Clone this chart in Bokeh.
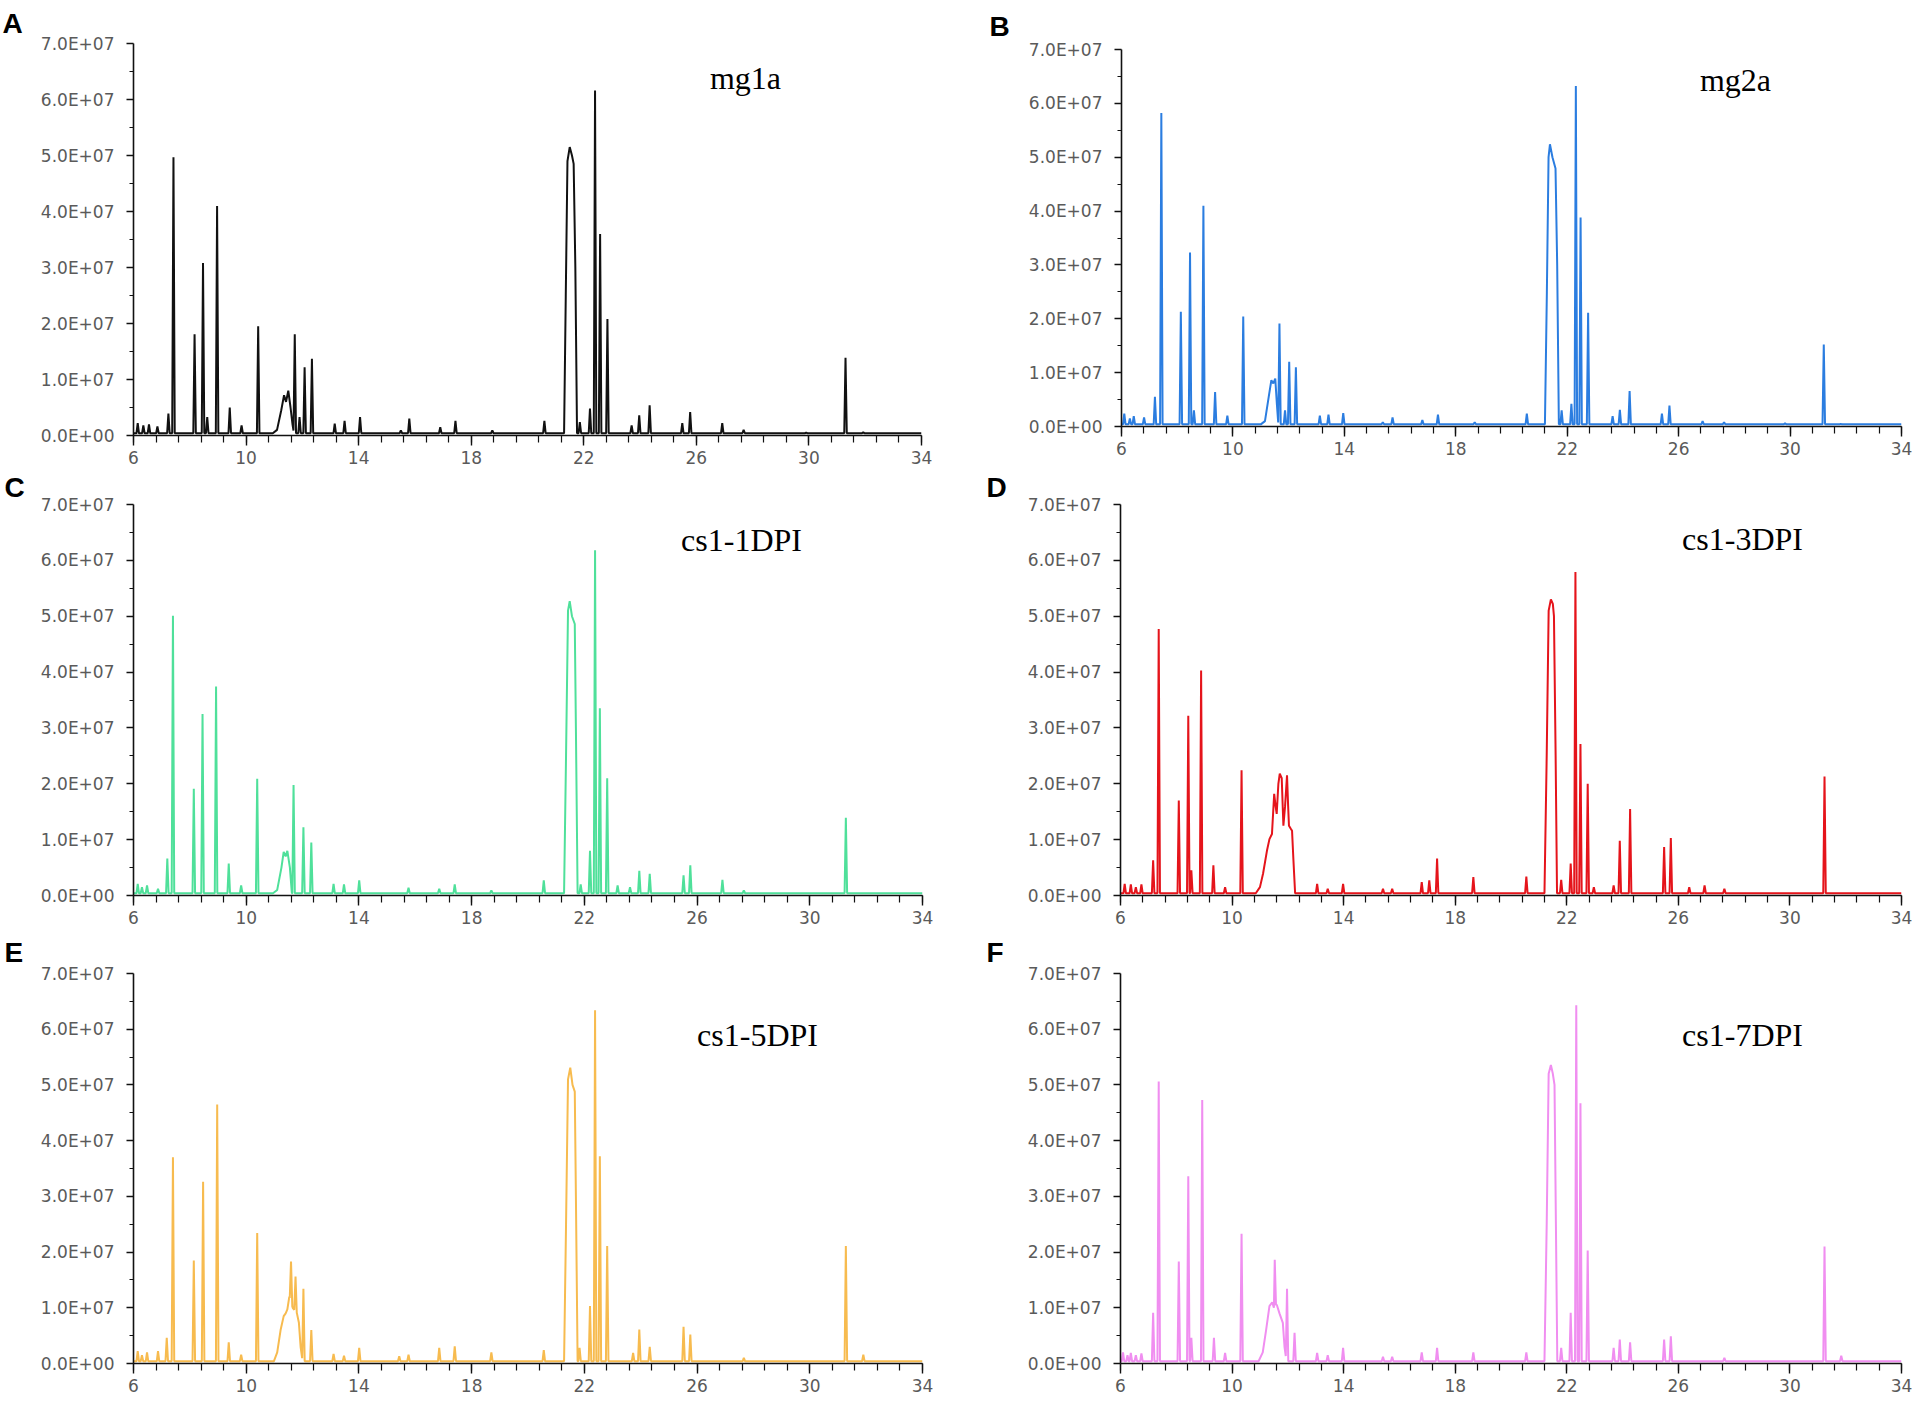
import numpy as np
from bokeh.plotting import figure
from bokeh.models import Label, FixedTicker
from bokeh.layouts import row, column
from bokeh.embed import file_html
from bokeh.resources import INLINE

# ---------------- data (intensities in units of 1e7) ----------------
x_ticks = [6, 10, 14, 18, 22, 26, 30, 34]
y_ticks = [0, 10000000, 20000000, 30000000, 40000000, 50000000, 60000000, 70000000]
y_tick_labels = ["0.0E+00", "1.0E+07", "2.0E+07", "3.0E+07", "4.0E+07", "5.0E+07", "6.0E+07", "7.0E+07"]
sample_names = ["mg1a", "mg2a", "cs1-1DPI", "cs1-3DPI", "cs1-5DPI", "cs1-7DPI"]
panel_letters = ["A", "B", "C", "D", "E", "F"]

# sharp peaks: retention time (min) and height (1e7)
A_rt = [6.15, 6.35, 6.55, 6.85, 7.24, 7.42, 8.17, 8.47, 8.62, 8.97, 9.42, 9.84, 10.43, 11.73, 11.9, 12.08, 12.34,
        13.15, 13.5, 14.05, 15.5, 15.8, 16.9, 17.44, 18.75, 20.6, 21.86, 22.22, 22.4, 22.58, 22.84, 23.7, 23.97,
        24.34, 25.5, 25.78, 26.92, 27.68, 29.9, 31.3, 31.93]
A_h = [0.22, 0.18, 0.2, 0.16, 0.39, 4.97, 1.81, 3.08, 0.33, 4.1, 0.5, 0.18, 1.95, 1.81, 0.33, 1.22, 1.37,
       0.21, 0.26, 0.33, 0.09, 0.3, 0.15, 0.26, 0.09, 0.26, 0.24, 0.48, 6.16, 3.6, 2.08, 0.18, 0.36,
       0.54, 0.22, 0.42, 0.22, 0.1, 0.05, 1.39, 0.06]
A_hump_t = [10.95, 11.1, 11.25, 11.35, 11.42, 11.5, 11.58, 11.65, 11.7]
A_hump_h = [0.0, 0.1, 0.45, 0.72, 0.6, 0.8, 0.5, 0.2, 0.0]
A_main_t = [21.3, 21.36, 21.42, 21.5, 21.58, 21.64, 21.7, 21.76]
A_main_h = [0.0, 2.5, 4.9, 5.15, 5.0, 4.85, 3.0, 0.0]

B_rt = [6.1, 6.3, 6.44, 6.81, 7.2, 7.43, 8.13, 8.46, 8.6, 8.94, 9.36, 9.8, 10.37, 11.67, 11.87, 12.02, 12.26,
        13.12, 13.43, 13.96, 15.38, 15.73, 16.8, 17.36, 18.68, 20.55, 21.8, 22.15, 22.31, 22.48, 22.75, 23.63,
        23.89, 24.24, 25.4, 25.67, 26.86, 27.63, 29.82, 31.21, 31.82]
B_h = [0.24, 0.15, 0.19, 0.17, 0.55, 5.82, 2.13, 3.23, 0.3, 4.1, 0.64, 0.2, 2.04, 1.91, 0.3, 1.2, 1.1,
       0.2, 0.22, 0.25, 0.08, 0.17, 0.12, 0.22, 0.08, 0.24, 0.3, 0.42, 6.32, 3.88, 2.11, 0.19,
       0.31, 0.66, 0.24, 0.39, 0.1, 0.08, 0.06, 1.52, 0.05]
B_hump_t = [11.0, 11.15, 11.3, 11.38, 11.45, 11.52, 11.58, 11.63]
B_hump_h = [0.0, 0.1, 0.6, 0.86, 0.8, 0.89, 0.4, 0.0]
B_main_t = [21.2, 21.27, 21.33, 21.38, 21.47, 21.58, 21.64, 21.7]
B_main_h = [0.0, 2.5, 5.0, 5.24, 5.0, 4.79, 3.0, 0.0]

C_rt = [6.15, 6.3, 6.48, 6.87, 7.2, 7.4, 8.14, 8.45, 8.93, 9.38, 9.82, 10.39, 11.68, 12.03, 12.31, 13.1, 13.47,
        14.01, 15.76, 16.85, 17.4, 18.7, 20.56, 21.87, 22.2, 22.38, 22.55, 22.81, 23.18, 23.62, 23.95, 24.32,
        25.52, 25.76, 26.9, 27.66, 31.28]
C_h = [0.21, 0.15, 0.18, 0.12, 0.66, 5.01, 1.91, 3.25, 3.74, 0.57, 0.18, 2.09, 1.98, 1.22, 0.95, 0.21, 0.2,
       0.27, 0.14, 0.12, 0.2, 0.09, 0.27, 0.2, 0.8, 6.18, 3.35, 2.1, 0.18, 0.15, 0.44, 0.39,
       0.36, 0.54, 0.28, 0.09, 1.39]
C_hump_t = [10.95, 11.1, 11.25, 11.33, 11.4, 11.46, 11.55, 11.62]
C_hump_h = [0.0, 0.1, 0.5, 0.78, 0.7, 0.8, 0.5, 0.0]
C_main_t = [21.28, 21.35, 21.42, 21.48, 21.56, 21.66, 21.7, 21.76]
C_main_h = [0.0, 2.5, 5.1, 5.27, 5.0, 4.86, 3.0, 0.0]

D_rt = [6.15, 6.37, 6.55, 6.75, 7.17, 7.37, 8.09, 8.43, 8.54, 8.89, 9.33, 9.75, 10.34, 13.05, 13.43, 13.98,
        15.41, 15.74, 16.8, 17.07, 17.35, 18.65, 20.55, 21.8, 22.14, 22.31, 22.49, 22.75, 22.97, 23.68, 23.9,
        24.27, 25.49, 25.73, 26.39, 26.94, 27.65, 31.24]
D_h = [0.21, 0.2, 0.15, 0.2, 0.63, 4.77, 1.7, 3.22, 0.45, 4.03, 0.54, 0.15, 2.24, 0.21, 0.12, 0.21,
       0.12, 0.12, 0.24, 0.27, 0.66, 0.33, 0.34, 0.28, 0.57, 5.79, 2.71, 2.0, 0.15, 0.18, 0.98,
       1.55, 0.87, 1.03, 0.15, 0.18, 0.12, 2.13]
D_hump_t = [10.85, 11.0, 11.11, 11.25, 11.34, 11.43, 11.51, 11.56, 11.6, 11.66, 11.71, 11.78, 11.84, 11.9,
            11.97, 12.01, 12.04, 12.1, 12.15, 12.2, 12.26]
D_hump_h = [0.0, 0.15, 0.39, 0.8, 1.01, 1.1, 1.82, 1.6, 1.46, 2.0, 2.18, 2.1, 1.25, 1.6,
            2.15, 1.6, 1.25, 1.2, 1.16, 0.63, 0.0]
D_main_t = [21.2, 21.28, 21.35, 21.43, 21.5, 21.54, 21.6, 21.65]
D_main_h = [0.0, 2.5, 5.1, 5.3, 5.22, 5.0, 2.5, 0.0]

E_rt = [6.15, 6.3, 6.48, 6.87, 7.18, 7.4, 8.14, 8.47, 8.97, 9.38, 9.82, 10.39, 11.59, 11.75, 12.03, 12.31,
        13.1, 13.47, 14.01, 15.43, 15.76, 16.85, 17.4, 18.7, 20.56, 21.83, 22.2, 22.38, 22.55, 22.81, 23.73,
        23.95, 24.32, 25.52, 25.76, 27.66, 31.28, 31.9]
E_h = [0.22, 0.15, 0.2, 0.22, 0.46, 3.7, 1.85, 3.26, 4.65, 0.38, 0.16, 2.34, 1.83, 1.56, 1.34, 0.6,
       0.17, 0.14, 0.28, 0.13, 0.16, 0.28, 0.31, 0.2, 0.24, 0.28, 1.03, 6.34, 3.72, 2.11, 0.19,
       0.61, 0.3, 0.66, 0.52, 0.1, 2.11, 0.16]
E_hump_t = [10.98, 11.1, 11.22, 11.33, 11.4, 11.46, 11.53, 11.65, 11.8, 11.87, 11.93, 12.0]
E_hump_h = [0.0, 0.2, 0.6, 0.85, 0.9, 0.97, 1.2, 1.0, 0.9, 0.73, 0.3, 0.0]
E_main_t = [21.28, 21.35, 21.42, 21.5, 21.58, 21.66, 21.7, 21.76]
E_main_h = [0.0, 2.5, 5.1, 5.31, 5.0, 4.88, 3.0, 0.0]

F_rt = [6.09, 6.25, 6.37, 6.55, 6.75, 7.17, 7.37, 8.09, 8.43, 8.54, 8.93, 9.35, 9.75, 10.34, 11.53, 11.97,
        12.24, 13.05, 13.43, 13.98, 15.41, 15.74, 16.8, 17.35, 18.65, 20.55, 21.8, 22.14, 22.34, 22.49, 22.75,
        23.68, 23.9, 24.27, 25.49, 25.73, 27.65, 31.24, 31.84]
F_h = [0.2, 0.15, 0.19, 0.15, 0.18, 0.91, 5.06, 1.83, 3.36, 0.46, 4.73, 0.46, 0.19, 2.33, 1.86, 1.34,
       0.55, 0.19, 0.15, 0.28, 0.12, 0.12, 0.2, 0.28, 0.2, 0.2, 0.28, 0.91, 6.43, 4.67, 2.03,
       0.28, 0.43, 0.38, 0.43, 0.49, 0.1, 2.1, 0.14]
F_hump_t = [10.95, 11.1, 11.22, 11.34, 11.44, 11.5, 11.6, 11.7, 11.82, 11.88, 11.95]
F_hump_h = [0.0, 0.2, 0.6, 1.03, 1.1, 1.0, 1.06, 0.9, 0.73, 0.3, 0.0]
F_main_t = [21.2, 21.28, 21.35, 21.43, 21.5, 21.56, 21.61, 21.66]
F_main_h = [0.0, 2.5, 5.2, 5.36, 5.2, 5.0, 2.5, 0.0]

series = [
    (A_rt, A_h, [(A_hump_t, A_hump_h), (A_main_t, A_main_h)]),
    (B_rt, B_h, [(B_hump_t, B_hump_h), (B_main_t, B_main_h)]),
    (C_rt, C_h, [(C_hump_t, C_hump_h), (C_main_t, C_main_h)]),
    (D_rt, D_h, [(D_hump_t, D_hump_h), (D_main_t, D_main_h)]),
    (E_rt, E_h, [(E_hump_t, E_hump_h), (E_main_t, E_main_h)]),
    (F_rt, F_h, [(F_hump_t, F_hump_h), (F_main_t, F_main_h)]),
]

# ---------------- style / layout ----------------
colors = ["#111111", "#2b7de0", "#4fe09a", "#e5141b", "#f7bb4f", "#f08ef0"]
# canvas rectangles (page px): x, y, width, height
canvases = [(0, 0, 964, 470), (964, 0, 949, 470),
            (0, 470, 964, 460), (964, 470, 949, 460),
            (0, 930, 964, 468), (964, 930, 949, 468)]
# desired plot frames in page px: left, right, top, bottom (zero line)
frames = [(133, 921, 43, 435), (1121, 1901, 49, 426),
          (133, 922, 504, 895), (1120, 1901, 504, 895),
          (133, 922, 973, 1363), (1120, 1901, 973, 1363)]
letter_x = [7, 994, 9, 991, 9, 991]
letter_standoff = [5, 12, 0, 0, 7, 7]
title_pos = [(745, 90), (1735, 92), (741, 552), (1742, 551), (757, 1047), (1742, 1047)]
TEXT_SHIFT = 13   # rendered alphabetic baseline sits lower than requested

SCALE = 1e7
BASE = 0.04
HW = 0.045


def build_trace(rt, h, broad):
    segs = [([t - HW, t, t + HW], [BASE, v, BASE]) for t, v in zip(rt, h)]
    segs += [(list(ts), [max(v, BASE) for v in vs]) for ts, vs in broad]
    xs = np.array(sorted(set([6.0, 34.0] + [t for ts, _ in segs for t in ts])))
    ys = np.full(len(xs), BASE)
    for ts, vs in segs:
        ys = np.maximum(ys, np.interp(xs, ts, vs, left=BASE, right=BASE))
    return xs, ys * SCALE


figs = []
for i in range(6):
    x0, y0, W, H = canvases[i]
    fl, fr, ft, fb = frames[i]
    p = figure(width=W, height=H, x_range=(6, 34), y_range=(0, 7e7),
               output_backend="svg", toolbar_location=None,
               min_border_left=fl - x0, min_border_right=x0 + W - fr,
               min_border_top=ft - y0, min_border_bottom=y0 + H - fb)
    p.xgrid.visible = False
    p.ygrid.visible = False
    p.outline_line_color = None
    p.background_fill_color = "white"
    p.border_fill_color = "white"

    p.xaxis.ticker = FixedTicker(ticks=x_ticks, minor_ticks=[round(6 + 0.8 * k, 2) for k in range(36)])
    p.yaxis.ticker = FixedTicker(ticks=y_ticks, minor_ticks=[5000000 + 10000000 * k for k in range(7)])
    p.yaxis.major_label_overrides = {t: lab for t, lab in zip(y_ticks, y_tick_labels)}

    for ax in (p.xaxis, p.yaxis):
        ax.axis_line_color = "#111111"
        ax.axis_line_width = 1.6
        ax.major_tick_line_color = "#111111"
        ax.minor_tick_line_color = "#111111"
        ax.major_tick_line_width = 1.4
        ax.minor_tick_line_width = 1.2
        ax.major_tick_in = 0
        ax.minor_tick_in = 0
        ax.major_label_text_font = "DejaVu Sans"
        ax.major_label_text_font_size = "17px"
        ax.major_label_text_color = "#5a5a5a"
    p.xaxis.major_tick_out = 10
    p.xaxis.minor_tick_out = 7
    p.xaxis.major_label_standoff = 5
    p.yaxis.major_tick_out = 7
    p.yaxis.minor_tick_out = 4
    p.yaxis.major_label_standoff = 12

    rt, h, broad = series[i]
    xs, ys = build_trace(rt, h, broad)
    p.line(xs, ys, line_color=colors[i], line_width=2.0)

    # panel letter as the figure title (drawn above the frame, never clipped)
    p.title.text = panel_letters[i]
    p.title.align = "left"
    p.title.offset = letter_x[i] - fl - 5
    p.title.vertical_align = "top"
    p.title.standoff = letter_standoff[i]
    p.title.text_font = "Liberation Sans"
    p.title.text_font_style = "bold"
    p.title.text_font_size = "28px"
    p.title.text_color = "black"

    def px2x(px):
        return 6 + (px - fl) / (fr - fl) * 28

    def py2y(py):
        return (fb - py) / (fb - ft) * 7e7

    tx, ty = title_pos[i]
    p.add_layout(Label(x=px2x(tx), y=py2y(ty - TEXT_SHIFT), text=sample_names[i], text_font="Liberation Serif",
                       text_font_size="32px", text_color="black",
                       text_align="center", text_baseline="alphabetic"))
    figs.append(p)

layout = column(
    row(figs[0], column(figs[1])),
    row(figs[2], figs[3]),
    row(figs[4], figs[5]),
)

open("out.html", "w").write(file_html(layout, INLINE))
